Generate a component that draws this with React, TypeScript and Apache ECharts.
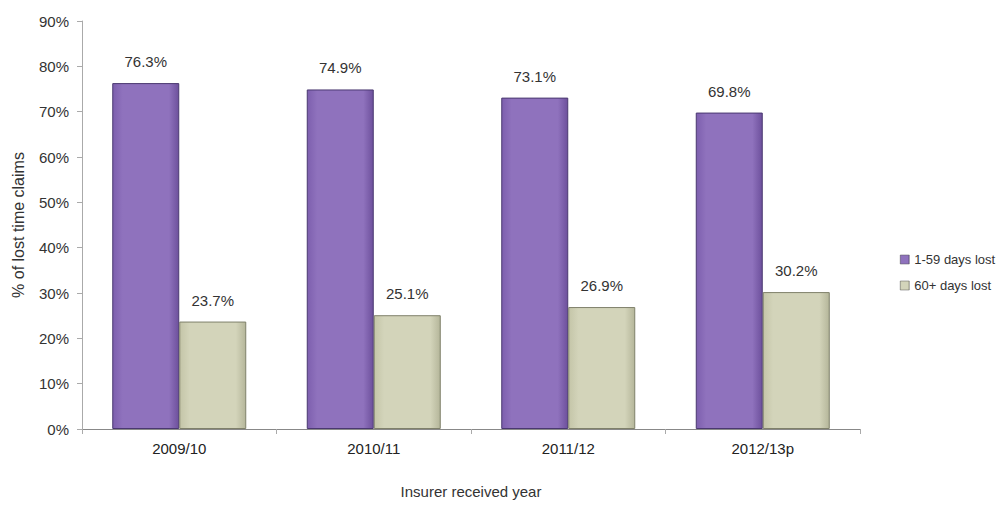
import React, { useEffect, useRef } from "react";
import * as echarts from "echarts";

const categories = ["2009/10", "2010/11", "2011/12", "2012/13p"];
const shortLost = [76.3, 74.9, 73.1, 69.8];
const longLost = [23.7, 25.1, 26.9, 30.2];
const seriesNames = ["1-59 days lost", "60+ days lost"];

export default function App() {
  const ref = useRef<HTMLDivElement>(null);
  useEffect(() => {
    const chart = echarts.init(ref.current!, null, { renderer: "svg" });
    const font = "Liberation Sans, Arial, sans-serif";
    const label = {
      show: true,
      position: "top",
      distance: 14,
      color: "#333",
      fontSize: 15,
      fontFamily: font,
      formatter: (p: any) => p.value.toFixed(1) + "%",
    };
    chart.setOption({
      animation: false,
      textStyle: { fontFamily: font },
      grid: { left: 82, right: 137, top: 21, bottom: 80 },
      legend: {
        orient: "vertical",
        left: 895,
        top: 248,
        itemWidth: 9,
        itemHeight: 9,
        itemGap: 13,
        itemStyle: { borderColor: "#555", borderWidth: 0.5 },
        icon: "rect",
        textStyle: { fontSize: 13, color: "#333", fontFamily: font },
        data: seriesNames,
      },
      xAxis: {
        type: "category",
        data: categories,
        axisLine: { lineStyle: { color: "#888" } },
        axisTick: { show: true, length: 5, lineStyle: { color: "#aaa" } },
        axisLabel: { fontSize: 15, color: "#222", margin: 12 },
        name: "Insurer received year",
        nameLocation: "middle",
        nameGap: 55,
        nameTextStyle: { fontSize: 15, color: "#333" },
      },
      yAxis: {
        type: "value",
        min: 0,
        max: 90,
        interval: 10,
        axisLine: { show: true, lineStyle: { color: "#aaa" } },
        axisTick: { show: true, length: 5, lineStyle: { color: "#aaa" } },
        splitLine: { show: false },
        axisLabel: { fontSize: 15, color: "#333", formatter: "{value}%", margin: 13 },
        name: "% of lost time claims",
        nameLocation: "middle",
        nameGap: 56,
        nameTextStyle: { fontSize: 16, color: "#333" },
      },
      series: [
        {
          name: seriesNames[0],
          type: "bar",
          data: shortLost,
          barWidth: 67,
          barGap: "0%",
          itemStyle: {
            color: {
              type: "linear", x: 0, y: 0, x2: 1, y2: 0,
              colorStops: [
                { offset: 0, color: "#7d5fae" },
                { offset: 0.15, color: "#8f72bd" },
                { offset: 0.85, color: "#8f72bd" },
                { offset: 1, color: "#6d509c" },
              ],
            },
            borderColor: "#4a3870",
            borderWidth: 1,
          },
          label,
        },
        {
          name: seriesNames[1],
          type: "bar",
          data: longLost,
          barWidth: 67,
          itemStyle: {
            color: {
              type: "linear", x: 0, y: 0, x2: 1, y2: 0,
              colorStops: [
                { offset: 0, color: "#c4c5a8" },
                { offset: 0.15, color: "#d3d4ba" },
                { offset: 0.85, color: "#d3d4ba" },
                { offset: 1, color: "#b5b69a" },
              ],
            },
            borderColor: "#7f806a",
            borderWidth: 1,
          },
          label,
        },
      ],
    });
    return () => chart.dispose();
  }, []);
  return (
    <div
      ref={ref}
      style={{ position: "absolute", left: 0, top: 0, width: 997, height: 509 }}
    />
  );
}
